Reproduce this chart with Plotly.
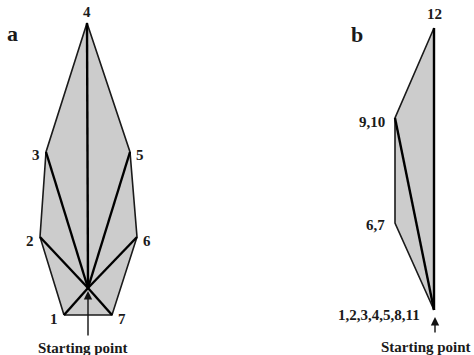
import plotly.graph_objects as go

# Panel a: polygon vertices (order 1..7) and starting point
a_labels = ["1", "2", "3", "4", "5", "6", "7"]
a_x = [64, 40, 46, 87, 130, 137, 112]
a_y = [315, 237, 152, 23, 152, 237, 315]
a_start = (88, 288)

# Panel b: vertices (start, 6,7, 9,10, 12)
b_labels = ["1,2,3,4,5,8,11", "6,7", "9,10", "12"]
b_x = [434, 395, 395, 434]
b_y = [310, 223, 118, 28]
b_spokes = [2, 3]  # indices of vertices joined to the start point

panel_letters = ["a", "b"]
start_text = "Starting point"

FILL = "#cccccc"
EDGE = "#1a1a1a"
FONT = "Liberation Serif, Times New Roman, Times, serif"

fig = go.Figure()

# Panel a fill + outline
fig.add_trace(go.Scatter(x=a_x + [a_x[0]], y=a_y + [a_y[0]], mode="lines",
                         fill="toself", fillcolor=FILL,
                         line=dict(color=EDGE, width=1.6), hoverinfo="skip"))
# Panel a spokes
for xi, yi in zip(a_x, a_y):
    fig.add_trace(go.Scatter(x=[a_start[0], xi], y=[a_start[1], yi], mode="lines",
                             line=dict(color="#000000", width=2.4), hoverinfo="skip"))

# Panel b fill + outline
fig.add_trace(go.Scatter(x=b_x + [b_x[0]], y=b_y + [b_y[0]], mode="lines",
                         fill="toself", fillcolor=FILL,
                         line=dict(color=EDGE, width=1.6), hoverinfo="skip"))
for i in b_spokes:
    fig.add_trace(go.Scatter(x=[b_x[0], b_x[i]], y=[b_y[0], b_y[i]], mode="lines",
                             line=dict(color="#000000", width=2.4), hoverinfo="skip"))

lab_font = dict(family=FONT, size=15, color="#1a1a1a")
ann = []

def bold(t):
    return "<b>" + t + "</b>"

# panel a vertex labels: (xanchor, xshift, yshift)
a_off = [("right", -4, -4), ("right", -4, -4), ("right", -4, -3), ("center", 0, 11),
         ("left", 4, -3), ("left", 4, -4), ("left", 4, -4)]
for t, xi, yi, (xa, xs, ys) in zip(a_labels, a_x, a_y, a_off):
    ann.append(dict(x=xi, y=yi, text=bold(t), showarrow=False, xanchor=xa, yanchor="middle",
                    xshift=xs, yshift=ys, font=lab_font))

b_off = [("right", -12, -5), ("right", -8, -2), ("right", -8, -4), ("center", 0, 14)]
for t, xi, yi, (xa, xs, ys) in zip(b_labels, b_x, b_y, b_off):
    ann.append(dict(x=xi, y=yi, text=bold(t), showarrow=False, xanchor=xa, yanchor="middle",
                    xshift=xs, yshift=ys, font=lab_font))

# arrows to start points
ann.append(dict(x=a_start[0], y=a_start[1] + 3, ax=a_start[0], ay=337,
                axref="x", ayref="y", xref="x", yref="y", text="", showarrow=True,
                arrowhead=2, arrowsize=1.2, arrowwidth=1.4, arrowcolor="#111111"))
ann.append(dict(x=b_x[0] + 1, y=b_y[0] + 7, ax=b_x[0] + 1, ay=334,
                axref="x", ayref="y", xref="x", yref="y", text="", showarrow=True,
                arrowhead=2, arrowsize=1.2, arrowwidth=1.4, arrowcolor="#111111"))

# starting point captions
ann.append(dict(x=83, y=348, text=bold(start_text), showarrow=False, xanchor="center",
                yanchor="middle", font=lab_font))
ann.append(dict(x=426, y=347, text=bold(start_text), showarrow=False, xanchor="center",
                yanchor="middle", font=lab_font))

# panel letters
let_font = dict(family=FONT, size=22, color="#1a1a1a")
ann.append(dict(x=12, y=33, text=bold(panel_letters[0]), showarrow=False, xanchor="center",
                yanchor="middle", font=let_font))
ann.append(dict(x=357, y=34, text=bold(panel_letters[1]), showarrow=False, xanchor="center",
                yanchor="middle", font=let_font))

fig.update_layout(
    width=474, height=355,
    margin=dict(l=0, r=0, t=0, b=0),
    paper_bgcolor="white", plot_bgcolor="white",
    showlegend=False,
    xaxis=dict(range=[0, 474], visible=False, fixedrange=True),
    yaxis=dict(range=[355, 0], visible=False, fixedrange=True),
    annotations=ann,
)

fig.write_html("out.html", config={"displayModeBar": False},
               post_script="document.body.style.margin='0';document.body.style.overflow='hidden';")
